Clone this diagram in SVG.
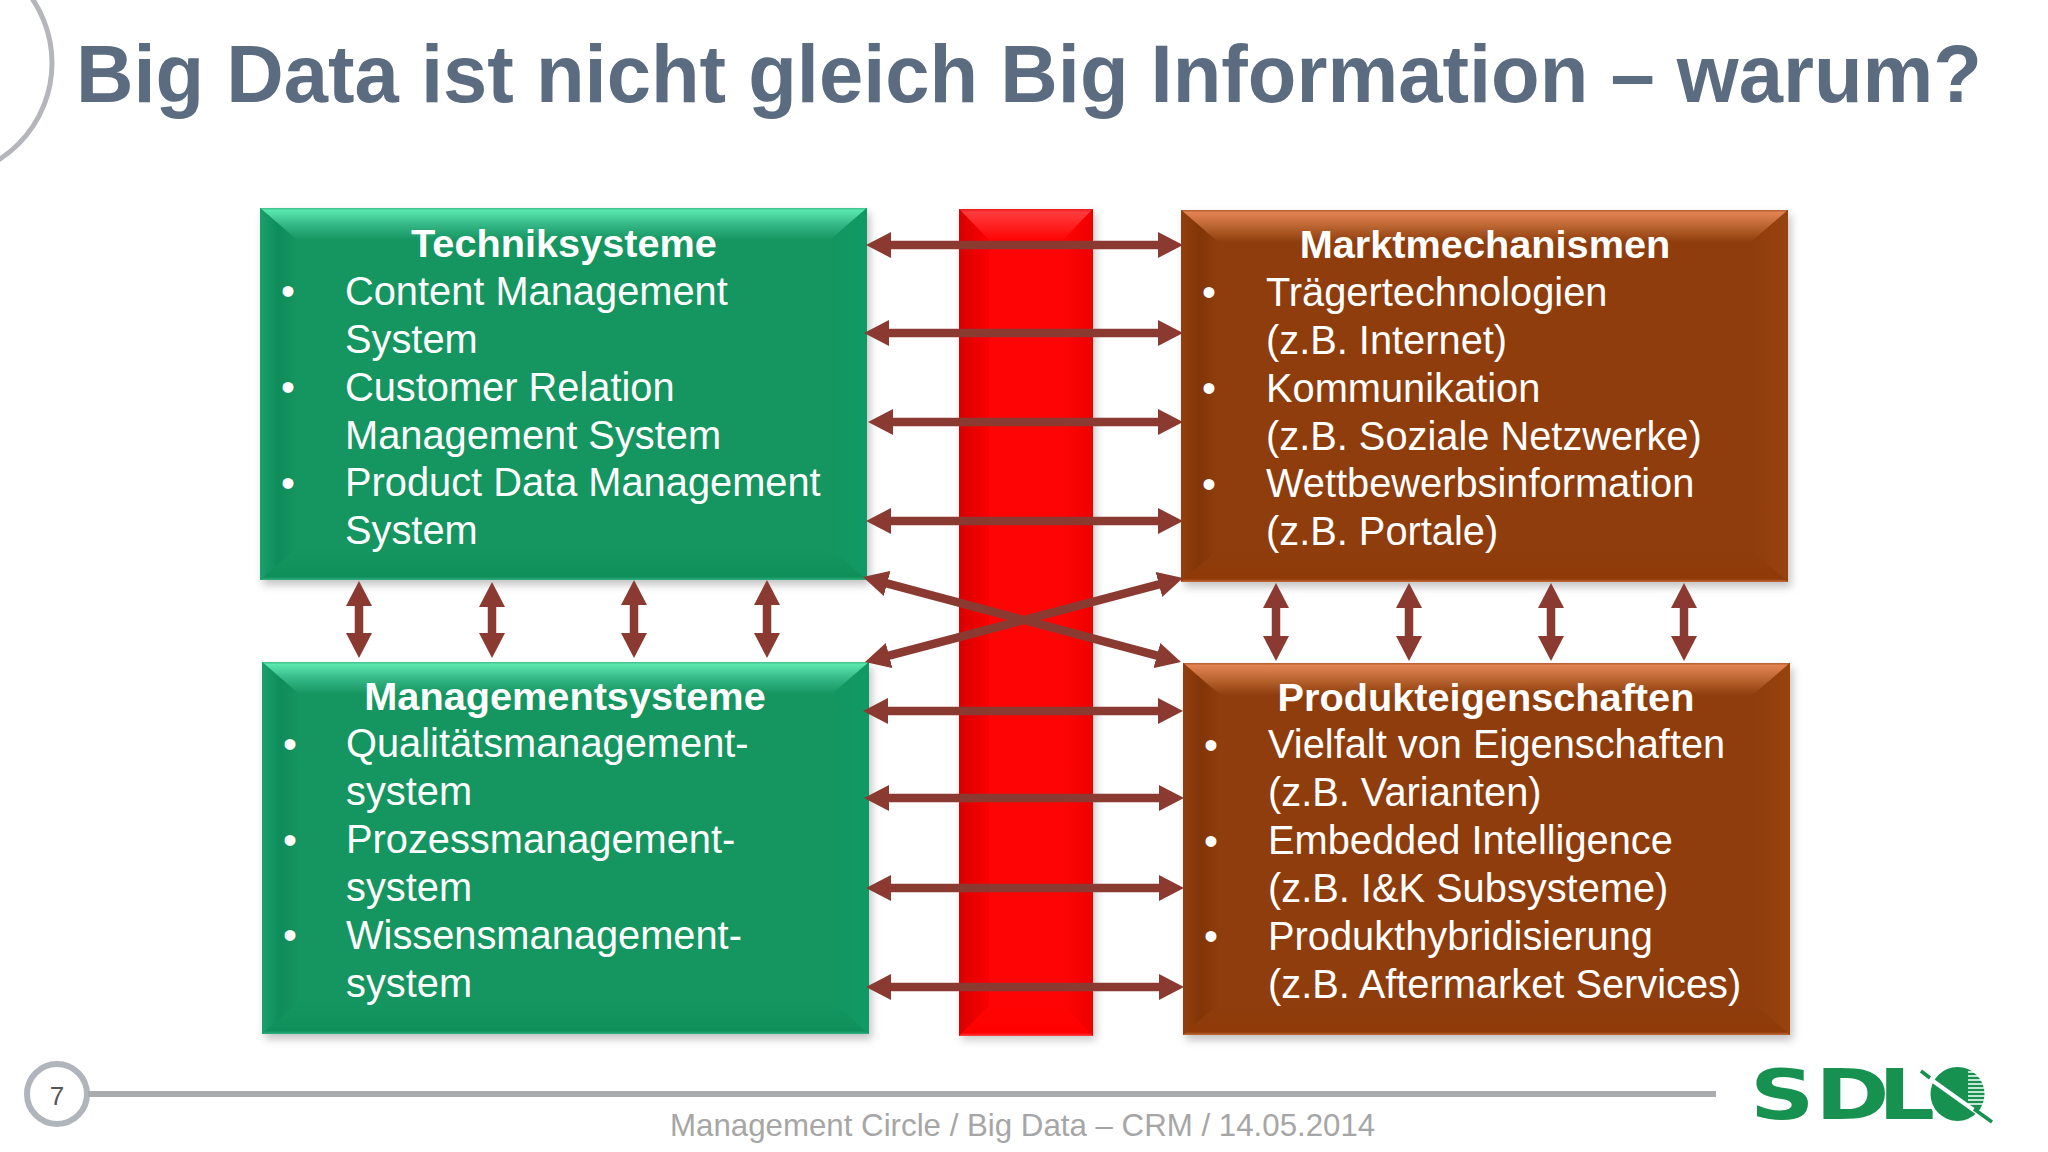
<svg xmlns="http://www.w3.org/2000/svg" width="2048" height="1152" viewBox="0 0 2048 1152">
<style>
text{font-family:"Liberation Sans",Arial,sans-serif}
.h{font-size:39.7px;font-weight:700;fill:#fff;text-anchor:middle}
.b{font-size:39.8px;fill:#fff}
.c{stroke:#8b3a32;stroke-width:8.5;fill:none;marker-start:url(#a);marker-end:url(#a)}
</style>
<defs>
<marker id="a" viewBox="0 0 25 26" refX="11" refY="13" markerWidth="25" markerHeight="26" markerUnits="userSpaceOnUse" orient="auto-start-reverse"><path d="M0 0L25 13L0 26Z" fill="#8b3a32"/></marker>
<linearGradient id="gt" x1="0" y1="0" x2="0" y2="1"><stop offset="0" stop-color="#3fbd8c"/><stop offset=".08" stop-color="#5ae8ae"/><stop offset=".5" stop-color="#36b888"/><stop offset="1" stop-color="#159560"/></linearGradient>
<linearGradient id="gl" x1="0" y1="0" x2="1" y2="0"><stop offset="0" stop-color="#1aa06e"/><stop offset=".5" stop-color="#0e8c59"/><stop offset="1" stop-color="#159560"/></linearGradient>
<linearGradient id="gr" x1="1" y1="0" x2="0" y2="0"><stop offset="0" stop-color="#0f9a65"/><stop offset="1" stop-color="#159560"/></linearGradient>
<linearGradient id="gd" x1="0" y1="1" x2="0" y2="0"><stop offset="0" stop-color="#2fb080"/><stop offset=".1" stop-color="#0f8f5a"/><stop offset="1" stop-color="#159560"/></linearGradient>
<linearGradient id="bt" x1="0" y1="0" x2="0" y2="1"><stop offset="0" stop-color="#b05c30"/><stop offset=".08" stop-color="#e28252"/><stop offset=".5" stop-color="#bb6632"/><stop offset="1" stop-color="#8f3d0d"/></linearGradient>
<linearGradient id="bl" x1="0" y1="0" x2="1" y2="0"><stop offset="0" stop-color="#923f0f"/><stop offset=".5" stop-color="#823507"/><stop offset="1" stop-color="#8f3d0d"/></linearGradient>
<linearGradient id="br" x1="1" y1="0" x2="0" y2="0"><stop offset="0" stop-color="#97430f"/><stop offset="1" stop-color="#8f3d0d"/></linearGradient>
<linearGradient id="bd" x1="0" y1="1" x2="0" y2="0"><stop offset="0" stop-color="#c46a3a"/><stop offset=".1" stop-color="#8f3a08"/><stop offset="1" stop-color="#8f3d0d"/></linearGradient>
<linearGradient id="rl" x1="0" y1="0" x2="1" y2="0"><stop offset="0" stop-color="#d80000"/><stop offset="1" stop-color="#fb0000"/></linearGradient>
<linearGradient id="rr" x1="1" y1="0" x2="0" y2="0"><stop offset="0" stop-color="#ee0000"/><stop offset="1" stop-color="#ff0404"/></linearGradient>
<linearGradient id="rt" x1="0" y1="0" x2="0" y2="1"><stop offset="0" stop-color="#e81818"/><stop offset=".1" stop-color="#ff3c3c"/><stop offset="1" stop-color="#ff0404"/></linearGradient>
<linearGradient id="rd" x1="0" y1="1" x2="0" y2="0"><stop offset="0" stop-color="#f44"/><stop offset=".1" stop-color="#f00"/><stop offset="1" stop-color="#ff0404"/></linearGradient>
<filter id="s" x="-5%" y="-5%" width="110%" height="110%"><feGaussianBlur stdDeviation="4"/></filter>
<g id="gb">
<rect x="3" y="5" width="607" height="372" fill="#888" opacity=".5" filter="url(#s)"/>
<rect width="607" height="372" fill="#159560"/>
<path d="M0 0H607L570 32H37Z" fill="url(#gt)"/>
<path d="M0 0L37 32V340L0 372Z" fill="url(#gl)"/>
<path d="M607 0L570 32V340L607 372Z" fill="url(#gr)"/>
<path d="M0 372L37 340H570L607 372Z" fill="url(#gd)"/>
</g>
<g id="bb">
<rect x="3" y="5" width="607" height="372" fill="#888" opacity=".5" filter="url(#s)"/>
<rect width="607" height="372" fill="#8f3d0d"/>
<path d="M0 0H607L570 32H37Z" fill="url(#bt)"/>
<path d="M0 0L37 32V340L0 372Z" fill="url(#bl)"/>
<path d="M607 0L570 32V340L607 372Z" fill="url(#br)"/>
<path d="M0 372L37 340H570L607 372Z" fill="url(#bd)"/>
</g>
</defs>
<rect width="2048" height="1152" fill="#fff"/>
<circle cx="-62.6" cy="63" r="114.6" fill="none" stroke="#b4b6bc" stroke-width="5"/>
<text x="76" y="102" font-size="81" font-weight="700" fill="#5b6b80" textLength="1906" lengthAdjust="spacingAndGlyphs">Big Data ist nicht gleich Big Information – warum?</text>

<g id="barriere"><rect x="962" y="213" width="134" height="827" fill="#888" opacity=".45" filter="url(#s)"/>
<rect x="959" y="209" width="134" height="827" fill="#ff0404"/>
<path d="M959 209H1093L1063 240H989Z" fill="url(#rt)"/>
<path d="M959 209L989 240V1006L959 1036Z" fill="url(#rl)"/>
<path d="M1093 209L1063 240V1006L1093 1036Z" fill="url(#rr)"/>
<path d="M959 1036L989 1006H1063L1093 1036Z" fill="url(#rd)"/></g>

<g id="techniksysteme">
<use href="#gb" x="260" y="208"/>
<text class="h" x="564" y="257">Techniksysteme</text>
<text class="b" x="281" y="305">•</text><text class="b" x="345" y="305">Content Management</text>
<text class="b" x="345" y="353">System</text>
<text class="b" x="281" y="401">•</text><text class="b" x="345" y="401">Customer Relation</text>
<text class="b" x="345" y="449">Management System</text>
<text class="b" x="281" y="497">•</text><text class="b" x="345" y="496">Product Data Management</text>
<text class="b" x="345" y="544">System</text>
</g>
<g id="managementsysteme">
<use href="#gb" x="262" y="662"/>
<text class="h" x="565" y="710">Managementsysteme</text>
<text class="b" x="283" y="758">•</text><text class="b" x="346" y="757">Qualitätsmanagement-</text>
<text class="b" x="346" y="805">system</text>
<text class="b" x="283" y="854">•</text><text class="b" x="346" y="853">Prozessmanagement-</text>
<text class="b" x="346" y="901">system</text>
<text class="b" x="283" y="949">•</text><text class="b" x="346" y="949">Wissensmanagement-</text>
<text class="b" x="346" y="997">system</text>
</g>
<g id="marktmechanismen">
<use href="#bb" x="1181" y="210"/>
<text class="h" x="1485" y="258">Marktmechanismen</text>
<text class="b" x="1202" y="306">•</text><text class="b" x="1266" y="306">Trägertechnologien</text>
<text class="b" x="1266" y="354">(z.B. Internet)</text>
<text class="b" x="1202" y="402">•</text><text class="b" x="1266" y="402">Kommunikation</text>
<text class="b" x="1266" y="450">(z.B. Soziale Netzwerke)</text>
<text class="b" x="1202" y="498">•</text><text class="b" x="1266" y="497">Wettbewerbsinformation</text>
<text class="b" x="1266" y="545">(z.B. Portale)</text>
</g>
<g id="produkteigenschaften">
<use href="#bb" x="1183" y="663"/>
<text class="h" x="1486" y="711">Produkteigenschaften</text>
<text class="b" x="1204" y="759">•</text><text class="b" x="1268" y="758">Vielfalt von Eigenschaften</text>
<text class="b" x="1268" y="806">(z.B. Varianten)</text>
<text class="b" x="1204" y="855">•</text><text class="b" x="1268" y="854">Embedded Intelligence</text>
<text class="b" x="1268" y="902">(z.B. I&amp;K Subsysteme)</text>
<text class="b" x="1204" y="950">•</text><text class="b" x="1268" y="950">Produkthybridisierung</text>
<text class="b" x="1268" y="998">(z.B. Aftermarket Services)</text>
</g>

<g id="connectors">
<path class="c" d="M880 245H1169"/><path class="c" d="M878 333H1169"/><path class="c" d="M882 422H1169"/><path class="c" d="M880 521H1169"/>
<path class="c" d="M877 711H1169"/><path class="c" d="M878 798H1170"/><path class="c" d="M880 888H1170"/><path class="c" d="M880 987H1170"/>
<path class="c" d="M876.5 580.6L1167.5 658.4"/><path class="c" d="M878.5 658.4L1169.5 581.6"/>
<path class="c" d="M359 595V644"/><path class="c" d="M492 596V644"/><path class="c" d="M634 594V644"/><path class="c" d="M767 594V644"/>
<path class="c" d="M1276 597V647"/><path class="c" d="M1409 597V647"/><path class="c" d="M1551 597V647"/><path class="c" d="M1684 597V647"/>
</g>

<g id="footer">
<circle cx="57" cy="1094" r="30" fill="#fff" stroke="#b0b4bb" stroke-width="6"/>
<text x="57" y="1105" font-size="26" fill="#555" text-anchor="middle">7</text>
<line x1="88" y1="1094" x2="1716" y2="1094" stroke="#a9abae" stroke-width="6"/>
<text x="670" y="1136" font-size="31.25" fill="#a6a6a6">Management Circle / Big Data – CRM / 14.05.2014</text>
</g>
<g id="logo">
<text transform="translate(1750 1119) scale(1.28 1)" x="0 51 100" font-size="70" font-weight="700" style="font-family:'DejaVu Sans',sans-serif" fill="#17914f">SDL</text>
<circle cx="1957.5" cy="1094" r="28.5" fill="#17914f" stroke="#fff" stroke-width="3"/>
<path d="M1968 1072H1985M1968 1076H1986M1968 1080H1986M1968 1084H1986M1968 1088H1986M1968 1092H1986M1968 1096H1986M1968 1100H1986M1968 1104H1986" stroke="#fff" stroke-width="1.4"/>
<path d="M1926 1076L1982 1116" stroke="#fff" stroke-width="4"/>
<path d="M1921 1071L1930 1078M1974 1109L1992 1122" stroke="#17914f" stroke-width="3.5"/>
</g>
</svg>
